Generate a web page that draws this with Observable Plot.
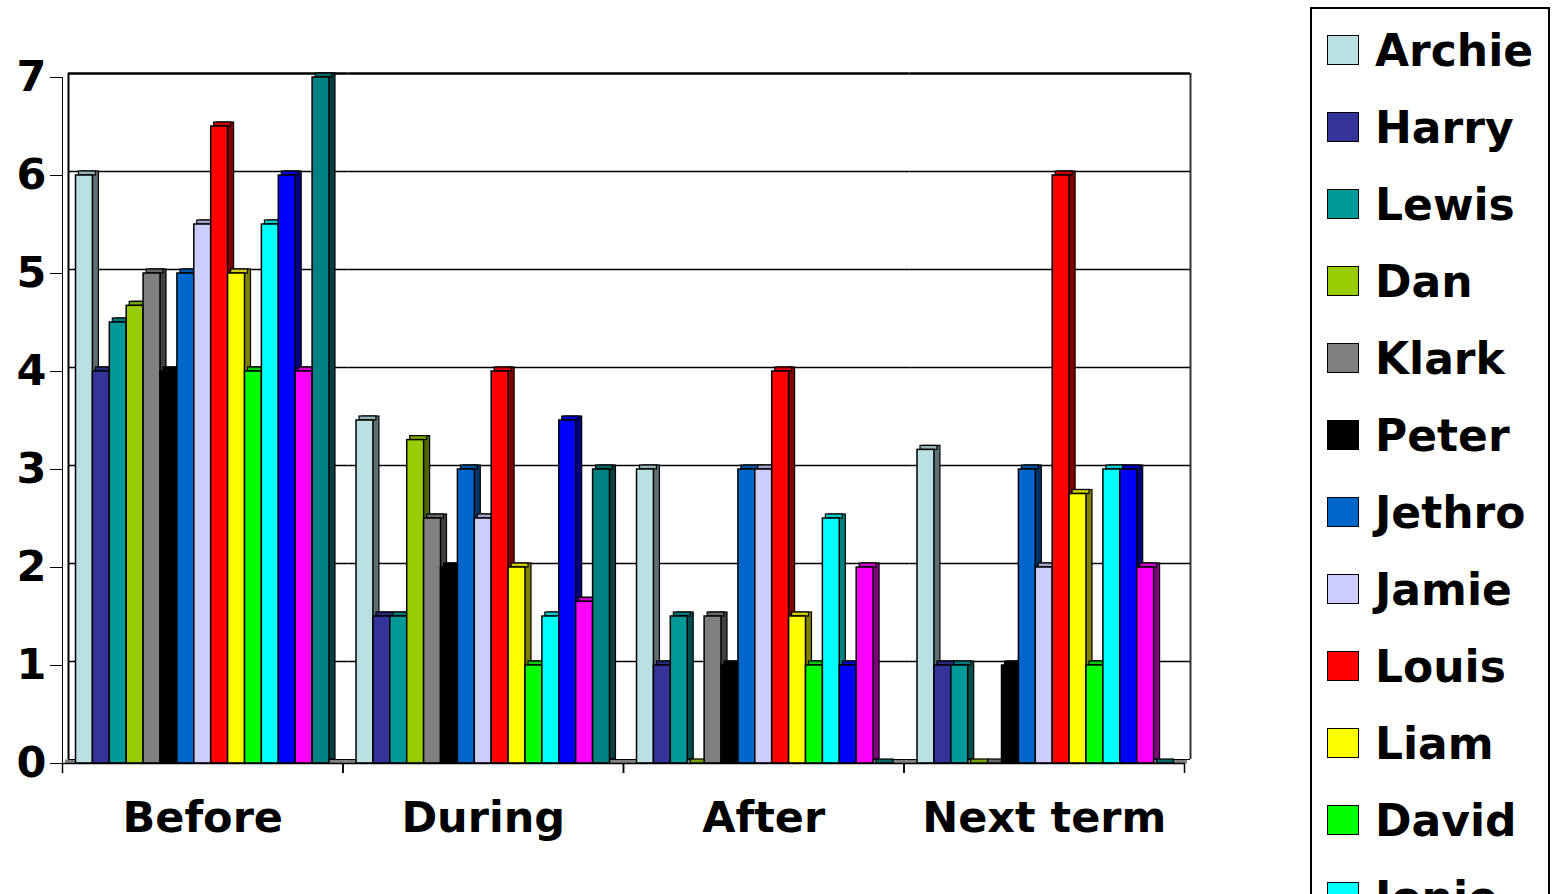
<!DOCTYPE html>
<html><head><meta charset="utf-8">
<script src="https://cdn.jsdelivr.net/npm/d3@7"></script>
<script src="https://cdn.jsdelivr.net/npm/@observablehq/plot@0.6"></script>
<style>
html,body{margin:0;padding:0;background:#fff;overflow:hidden;width:1554px;height:894px}
#chart{position:absolute;left:0;top:0;width:1200px}
#chart svg text{font-family:"DejaVu Sans";font-weight:bold;font-size:43px;fill:#000}
#legend{position:absolute;left:1310px;top:7px;width:240px;height:920px;border:2px solid #000;box-sizing:border-box;font-family:"DejaVu Sans";font-weight:bold;font-size:44px;background:#fff}
.item{position:absolute;left:15px;height:60px;display:flex;align-items:center;white-space:nowrap}
.sw{width:30px;height:28px;border:1.5px solid #000;margin-right:16px;flex:none}
</style></head><body>
<div id="chart"></div><div id="legend"></div>
<script>
const categories = ["Before", "During", "After", "Next term"];
const names = ["Archie", "Harry", "Lewis", "Dan", "Klark", "Peter", "Jethro", "Jamie", "Louis", "Liam", "David", "Jonie", "Series 13", "Series 14", "Series 15"];
const colors = ["#BBE0E3", "#333399", "#009999", "#99CC00", "#808080", "#000000", "#0066CC", "#CCCCFF", "#FF0000", "#FFFF00", "#00FF00", "#00FFFF", "#0000FF", "#FF00FF", "#008080"];
const before   = [6, 4, 4.5, 4.67, 5, 4, 5, 5.5, 6.5, 5, 4, 5.5, 6, 4, 7];
const during   = [3.5, 1.5, 1.5, 3.3, 2.5, 2, 3, 2.5, 4, 2, 1, 1.5, 3.5, 1.65, 3];
const after    = [3, 1, 1.5, 0, 1.5, 1, 3, 3, 4, 1.5, 1, 2.5, 1, 2, 0];
const nextTerm = [3.2, 1, 1, 0, 0, 1, 3, 2, 6, 2.75, 1, 3, 3, 2, 0];
const yTicks = [0, 1, 2, 3, 4, 5, 6, 7];

const seriesByCat = [before, during, after, nextTerm];
const rows = [];
categories.forEach((c, ci) => names.forEach((n, ni) => rows.push({cat: c, name: n, value: seriesByCat[ci][ni]})));
const colorOf = new Map(names.map((n, i) => [n, colors[i]]));
const shade = (c, k) => { const q = d3.rgb(c); return d3.rgb(q.r * k, q.g * k, q.b * k).formatHex(); };

const W = 1200, H = 894, mL = 62, mR = 16, mT = 77, mB = H - 763;
const D = 6, DY = 4, PO = 0.8;
const facetW = (W - mL - mR) / categories.length;
const step = facetW / (names.length + 2 * PO);
const edge = step * (0.5 + PO);

const chart = Plot.plot({
  width: W, height: H, marginLeft: mL, marginRight: mR, marginTop: mT, marginBottom: mB,
  fx: {domain: categories, padding: 0, round: false, label: null, tickSize: 0, tickPadding: 38, axis: "bottom"},
  x: {domain: names, paddingInner: 0, paddingOuter: PO, round: false, axis: null},
  y: {domain: [0, 7], ticks: yTicks, tickFormat: d3.format("d"), tickSize: 12, tickPadding: 4, label: null, line: true},
  color: {type: "identity"},
  marks: [
    Plot.ruleY([0], {dx: D / 2, dy: -DY / 2, stroke: "#808080", strokeWidth: DY}),
    Plot.ruleY(yTicks.filter(t => t > 0 && t < 7), {dx: D, dy: -DY, stroke: "#000", strokeWidth: 1.5}),
    Plot.ruleY([7], {dx: D, dy: -DY, stroke: "#000", strokeWidth: 2.5}),
    Plot.ruleY([0], {dx: D, dy: -DY, stroke: "#000", strokeWidth: 1}),
    Plot.ruleX([{f: "Before"}], {fx: "f", x: () => names[0], y1: 0, y2: 7, dx: -edge + D, dy: -DY, stroke: "#000", strokeWidth: 2}),
    Plot.ruleX([{f: "Next term"}], {fx: "f", x: () => names[names.length - 1], y1: 0, y2: 7, dx: edge + D, dy: -DY, stroke: "#333", strokeWidth: 2}),
    Plot.ruleX([names[0]], {dx: -edge, y1: 0, y2: 0, insetBottom: -10, stroke: "#000", strokeWidth: 1.5}),
    Plot.ruleX([names[names.length - 1]], {dx: edge, y1: 0, y2: 0, insetBottom: -10, stroke: "#000", strokeWidth: 1.5}),
    Plot.barY(rows, {fx: "cat", x: "name", y: "value", fill: d => shade(colorOf.get(d.name), 0.5), stroke: "#000", strokeWidth: 1.2, dx: D, dy: -DY, insetLeft: 0, insetRight: 0}),
    Plot.barY(rows, {fx: "cat", x: "name", y1: "value", y2: "value", fill: d => shade(colorOf.get(d.name), 0.8), stroke: "#000", strokeWidth: 1.2, dx: D / 2, insetTop: -DY, insetBottom: 0, insetLeft: 0, insetRight: 0}),
    Plot.barY(rows, {fx: "cat", x: "name", y: "value", fill: d => colorOf.get(d.name), stroke: "#000", strokeWidth: 1.5, insetLeft: 0, insetRight: 0}),
    Plot.ruleY([0], {stroke: "#000", strokeWidth: 1.5})
  ]
});
document.getElementById("chart").appendChild(chart);

const legend = document.getElementById("legend");
names.forEach((n, i) => {
  const item = document.createElement("div");
  item.className = "item";
  item.style.top = (11 + 77 * i) + "px";
  const sw = document.createElement("div");
  sw.className = "sw";
  sw.style.background = colorOf.get(n);
  const t = document.createElement("span");
  t.textContent = n;
  item.appendChild(sw); item.appendChild(t);
  legend.appendChild(item);
});
</script>
</body></html>
